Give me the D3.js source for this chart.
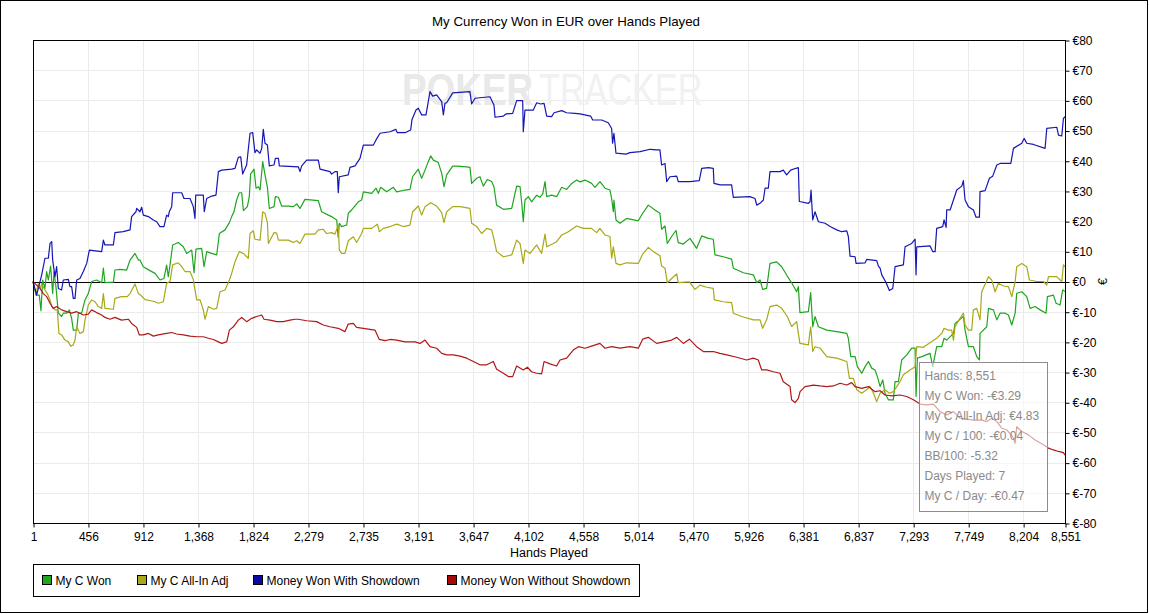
<!DOCTYPE html>
<html>
<head>
<meta charset="utf-8">
<script src="https://cdn.jsdelivr.net/npm/d3@7"></script>
<style>
  html, body { margin: 0; padding: 0; background: #fff; }
  svg { display: block; font-family: "Liberation Sans", Arial, sans-serif; }
</style>
</head>
<body>
<svg id="chart" width="1149" height="614"></svg>
<script>
// Tick labels
const handTicks = [1, 456, 912, 1368, 1824, 2279, 2735, 3191, 3647, 4102, 4558, 5014, 5470, 5926, 6381, 6837, 7293, 7749, 8204, 8551];
const euroTicks = [-80, -70, -60, -50, -40, -30, -20, -10, 0, 10, 20, 30, 40, 50, 60, 70, 80];

// Series: [hand, EUR]
const myCWon = [
  [1,0],[26,-4.5],[53,-4.5],[67,-9.7],[81,0.5],[100,-2.3],[114,3.3],[128,0.5],[147,5.1],[164,-4.0],[175,3.3],[191,-1.7],
  [211,-10.5],[238,-11.6],[252,-10.5],[280,-10.5],[302,-9.4],[321,-12.2],[335,-16.1],[363,-16.1],[377,-10.5],[404,-10.5],
  [432,-6.1],[459,-4.0],[487,0],[528,0.5],[570,-0.4],[584,4.4],[597,-0.4],[667,-0.2],[680,3.8],[722,4.0],[777,3.8],
  [805,7.1],[846,9.3],[874,7.1],[887,7.1],[915,4.9],[970,3.6],[1012,2.7],[1053,0.5],[1086,1.0],[1108,5.4],[1122,1.6],
  [1136,5.4],[1158,12.1],[1205,12.9],[1246,11.5],[1274,9.3],[1316,10.4],[1335,2.9],[1351,10.7],[1398,11.0],[1418,4.9],
  [1440,9.9],[1481,9.3],[1523,8.8],[1545,15.9],[1592,17.1],[1628,19.5],[1647,21.5],[1666,23.1],[1688,27.0],[1710,29.4],
  [1730,29.4],[1744,23.5],[1777,24.8],[1793,28.1],[1804,35.6],[1832,37.2],[1849,30.9],[1868,31.4],[1882,30.3],[1904,39.7],
  [1923,35.3],[1943,31.2],[1959,24.2],[1998,24.8],[2009,28.1],[2034,27.9],[2061,25.0],[2117,25.0],[2158,24.8],[2186,25.7],
  [2213,24.2],[2254,27.2],[2365,26.8],[2392,23.1],[2448,22.0],[2475,21.5],[2517,20.4],[2530,14.6],[2539,19.3],[2558,18.2],
  [2600,18.7],[2613,22.6],[2641,23.7],[2696,26.4],[2724,27.0],[2738,29.7],[2807,29.2],[2843,30.9],[2862,29.2],[2881,31.2],
  [2931,29.7],[2986,31.2],[3014,29.7],[3083,30.3],[3124,30.5],[3146,34.7],[3193,37.2],[3221,34.2],[3249,36.9],[3276,39.7],
  [3296,41.6],[3318,40.2],[3359,39.4],[3387,35.8],[3406,31.4],[3428,35.3],[3478,38.2],[3511,38.2],[3594,38.0],[3621,37.8],
  [3635,32.5],[3677,34.2],[3704,34.7],[3732,31.6],[3765,33.8],[3801,33.1],[3820,31.4],[3842,25.3],[3898,23.9],[3967,24.2],
  [4008,31.6],[4036,31.4],[4050,26.1],[4063,19.8],[4077,27.0],[4105,28.1],[4132,26.4],[4174,28.6],[4201,27.9],[4224,29.0],
  [4243,33.1],[4257,28.1],[4298,28.6],[4339,28.1],[4381,31.2],[4422,30.5],[4464,32.5],[4505,33.6],[4533,33.0],[4574,33.6],
  [4629,32.5],[4657,31.2],[4698,33.1],[4740,30.9],[4781,30.3],[4795,27.5],[4809,23.1],[4814,27.0],[4831,20.4],[4864,19.3],
  [4919,20.9],[5016,20.1],[5052,22.6],[5099,25.3],[5154,23.7],[5195,22.6],[5209,17.3],[5237,18.4],[5256,12.6],[5292,14.9],
  [5328,16.9],[5347,12.9],[5389,12.4],[5444,14.3],[5499,11.0],[5541,15.1],[5596,14.3],[5637,14.0],[5651,8.8],[5720,8.2],
  [5789,7.4],[5803,4.4],[5886,2.9],[5969,2.2],[5997,-0.4],[6024,0.5],[6046,-2.6],[6079,-2.3],[6107,6.0],[6162,6.5],
  [6204,4.9],[6250,1.8],[6286,-0.4],[6328,-3.4],[6342,-1.7],[6355,-10.3],[6425,-10.0],[6444,-3.7],[6461,-15.0],[6480,-11.6],
  [6508,-15.0],[6577,-16.1],[6660,-16.6],[6743,-17.2],[6756,-18.8],[6776,-24.9],[6812,-24.9],[6831,-28.2],[6867,-30.4],
  [6895,-28.2],[6922,-26.5],[6950,-28.7],[6977,-29.3],[6997,-31.5],[7019,-34.8],[7041,-32.6],[7060,-37.0],[7088,-39.2],
  [7129,-39.2],[7143,-33.2],[7171,-33.2],[7198,-26.0],[7240,-24.3],[7281,-22.1],[7309,-22.1],[7317,-38.1],[7328,-25.4],
  [7364,-24.9],[7433,-23.8],[7455,-28.2],[7488,-21.6],[7530,-21.6],[7549,-18.8],[7571,-19.4],[7627,-17.2],[7640,-13.9],
  [7676,-12.7],[7709,-11.6],[7723,-16.1],[7751,-21.6],[7792,-21.6],[7820,-24.9],[7842,-26.0],[7847,-17.2],[7903,-15.0],
  [7917,-8.9],[7958,-9.4],[7986,-12.7],[8013,-10.5],[8055,-10.5],[8082,-11.1],[8110,-14.4],[8138,-10.5],[8151,-3.9],
  [8193,-3.4],[8234,-5.0],[8262,-8.9],[8303,-8.3],[8345,-9.4],[8394,-10.5],[8405,-5.0],[8455,-4.5],[8477,-7.2],[8510,-7.8],
  [8532,-2.8],[8551,-3.29]
];

const myCAllInAdj = [
  [1,0],[26,-4.0],[45,-0.8],[59,-2.3],[73,-0.8],[100,-2.8],[120,-4.0],[142,-6.1],[156,-8.3],[183,-9.4],[202,-9.4],
  [216,-17.2],[238,-17.7],[266,-19.4],[294,-20.0],[313,-21.4],[335,-21.0],[349,-19.4],[363,-15.0],[390,-17.2],[418,-16.6],
  [432,-12.7],[459,-7.8],[487,-6.1],[515,-6.7],[542,-8.3],[570,-8.9],[584,-4.0],[597,-8.9],[667,-9.2],[680,-5.6],[735,-5.0],
  [782,-5.0],[805,-4.0],[846,-0.8],[874,-4.0],[901,-4.8],[929,-6.0],[970,-6.3],[1012,-6.7],[1039,-7.2],[1081,-6.7],
  [1108,-0.6],[1136,0.0],[1158,5.5],[1205,6.2],[1233,4.9],[1260,3.3],[1302,3.3],[1329,0.7],[1357,-6.1],[1385,-6.1],
  [1412,-9.4],[1426,-12.5],[1454,-8.3],[1495,-9.2],[1523,-8.9],[1550,-3.4],[1592,-2.8],[1628,0.5],[1647,2.7],[1675,6.6],
  [1710,9.9],[1744,9.3],[1785,7.7],[1799,15.9],[1827,16.8],[1840,14.0],[1882,13.7],[1904,23.1],[1923,22.6],[1943,19.5],
  [1951,12.6],[1998,16.2],[2020,16.0],[2034,13.7],[2117,13.7],[2158,12.9],[2186,13.5],[2213,12.6],[2254,15.7],[2337,15.7],
  [2365,17.1],[2406,17.3],[2434,15.9],[2475,16.2],[2503,15.7],[2530,18.7],[2539,10.4],[2558,9.3],[2586,9.3],[2613,13.5],
  [2655,14.8],[2682,12.9],[2724,15.9],[2738,17.6],[2807,17.6],[2854,19.0],[2870,16.5],[2903,17.6],[2959,18.2],[3014,19.0],
  [3069,18.2],[3124,18.7],[3146,23.1],[3193,25.0],[3221,22.0],[3249,24.8],[3296,26.1],[3345,25.0],[3387,22.8],[3406,19.5],
  [3428,23.1],[3478,24.8],[3539,24.8],[3621,24.2],[3635,19.3],[3677,18.2],[3718,15.9],[3760,17.6],[3801,17.1],[3820,14.0],
  [3842,9.9],[3898,8.2],[3967,8.8],[4008,13.7],[4036,12.6],[4063,6.0],[4077,10.4],[4119,9.3],[4174,12.1],[4215,9.3],
  [4243,15.7],[4257,11.5],[4312,12.6],[4339,13.2],[4381,15.4],[4436,16.5],[4505,18.4],[4560,17.6],[4629,17.6],[4671,16.2],
  [4698,17.6],[4740,15.4],[4781,14.9],[4795,7.7],[4809,11.5],[4831,6.0],[4864,5.5],[4919,6.2],[5016,6.0],[5052,9.1],
  [5099,11.3],[5140,9.9],[5195,8.5],[5209,5.1],[5237,4.4],[5256,-0.4],[5292,1.0],[5334,2.5],[5347,-0.4],[5439,-0.1],
  [5486,-2.6],[5527,-1.2],[5582,-1.9],[5637,-2.3],[5646,-6.1],[5720,-6.7],[5789,-7.0],[5803,-10.5],[5872,-11.6],[5969,-12.7],
  [6024,-12.7],[6046,-15.5],[6079,-12.7],[6107,-8.3],[6162,-7.8],[6204,-8.9],[6250,-11.6],[6286,-14.9],[6328,-13.3],
  [6342,-17.2],[6355,-20.5],[6425,-21.0],[6444,-15.0],[6461,-23.2],[6480,-21.6],[6522,-22.1],[6577,-24.9],[6660,-25.4],
  [6743,-26.5],[6765,-32.1],[6798,-32.1],[6826,-35.9],[6867,-37.0],[6908,-35.9],[6936,-34.8],[6964,-37.0],[6991,-39.8],
  [7019,-37.0],[7060,-35.9],[7096,-37.0],[7129,-36.5],[7157,-34.8],[7184,-33.2],[7212,-30.9],[7267,-29.3],[7309,-28.2],
  [7323,-21.6],[7378,-21.8],[7447,-19.9],[7488,-18.8],[7530,-17.2],[7549,-15.5],[7585,-16.1],[7612,-16.1],[7627,-19.4],
  [7640,-15.0],[7676,-12.5],[7709,-10.5],[7723,-14.4],[7751,-16.1],[7778,-16.1],[7792,-9.4],[7820,-8.9],[7847,-12.7],
  [7861,-3.4],[7917,1.6],[7944,0.5],[7972,-3.4],[7999,-0.6],[8041,-1.5],[8082,-1.7],[8110,-5.0],[8138,0.0],[8151,4.9],
  [8193,6.0],[8234,4.9],[8256,0.5],[8317,0.0],[8373,0.0],[8400,-1.2],[8414,1.6],[8483,1.6],[8524,0.0],[8538,5.5],[8551,4.83]
];

const withShowdown = [
  [1,0],[31,-4.5],[73,2.2],[100,7.7],[128,7.7],[142,12.6],[156,13.2],[164,7.1],[183,1.6],[197,4.9],[211,-2.3],[238,-2.8],
  [252,0.5],[294,0.7],[307,-1.7],[321,-1.7],[335,-5.6],[349,-5.6],[363,0.5],[390,1.0],[418,3.3],[446,6.0],[468,10.4],
  [570,9.9],[584,13.7],[597,12.1],[667,12.1],[680,16.2],[749,16.5],[805,17.1],[818,21.5],[854,23.1],[860,24.2],[887,23.1],
  [901,24.6],[915,22.0],[957,21.5],[998,20.4],[1026,19.8],[1053,18.2],[1086,18.2],[1108,22.0],[1122,21.5],[1130,23.1],
  [1150,24.8],[1158,29.4],[1233,29.4],[1252,27.5],[1302,27.5],[1329,24.8],[1343,20.9],[1349,28.6],[1412,28.6],[1420,23.1],
  [1440,27.5],[1481,28.3],[1517,28.6],[1537,36.4],[1564,36.9],[1647,37.2],[1675,37.5],[1702,41.1],[1722,41.3],[1738,35.6],
  [1771,38.6],[1799,49.1],[1821,49.3],[1840,42.7],[1854,43.6],[1882,42.5],[1896,44.1],[1909,50.4],[1923,45.8],[1943,45.2],
  [1959,38.3],[1998,38.6],[2009,40.8],[2034,40.8],[2042,38.3],[2199,38.0],[2213,36.4],[2227,38.3],[2268,40.2],[2365,40.2],
  [2379,37.2],[2461,36.4],[2475,35.6],[2503,36.4],[2522,36.4],[2530,29.4],[2539,34.7],[2613,35.3],[2627,37.8],[2669,38.3],
  [2710,40.8],[2738,45.2],[2821,45.2],[2843,46.9],[2876,49.1],[2959,49.6],[3008,50.4],[3019,49.3],[3083,49.3],[3130,50.2],
  [3141,53.7],[3174,56.8],[3193,57.4],[3221,55.2],[3257,55.2],[3290,62.9],[3312,61.4],[3345,61.8],[3387,59.6],[3401,55.2],
  [3414,59.0],[3428,59.2],[3478,62.5],[3621,62.9],[3635,58.8],[3663,60.7],[3787,61.2],[3820,58.5],[3829,54.4],[3898,54.8],
  [3920,55.5],[3975,55.7],[4008,59.9],[4058,59.9],[4063,49.6],[4077,56.8],[4146,56.8],[4174,59.2],[4207,58.8],[4235,59.0],
  [4257,54.8],[4298,54.6],[4318,55.9],[4381,56.6],[4422,55.9],[4491,55.7],[4533,55.5],[4621,54.8],[4638,53.5],[4712,53.5],
  [4767,52.6],[4795,50.7],[4803,45.8],[4814,49.1],[4831,42.5],[4914,42.2],[4947,42.7],[5030,43.0],[5113,43.8],[5168,43.6],
  [5195,43.6],[5209,38.6],[5237,39.1],[5251,33.1],[5278,34.7],[5334,34.9],[5347,33.1],[5444,33.1],[5521,33.4],[5541,37.5],
  [5596,37.7],[5637,37.5],[5643,32.5],[5693,32.0],[5789,32.0],[5803,27.9],[5941,28.1],[5983,27.5],[5997,25.3],[6024,25.9],
  [6052,27.0],[6066,30.9],[6093,30.9],[6107,36.4],[6190,36.4],[6217,36.9],[6245,35.3],[6278,36.9],[6322,37.5],[6342,37.7],
  [6350,26.5],[6425,25.9],[6439,26.4],[6447,30.3],[6461,20.4],[6480,23.1],[6508,19.8],[6563,19.3],[6605,18.2],[6660,17.1],
  [6701,16.5],[6743,16.8],[6756,14.9],[6770,8.4],[6812,8.2],[6820,6.0],[6895,6.2],[6908,7.3],[6991,6.9],[7005,5.1],
  [7019,4.4],[7033,2.2],[7069,-0.4],[7096,-3.0],[7124,-2.3],[7143,4.9],[7212,5.5],[7226,11.5],[7281,12.6],[7309,14.0],
  [7317,2.2],[7323,11.5],[7433,11.8],[7455,9.9],[7475,9.9],[7488,17.6],[7538,18.2],[7549,20.4],[7566,17.9],[7571,23.7],
  [7599,23.7],[7627,27.0],[7654,30.3],[7696,31.6],[7709,33.4],[7723,27.0],[7751,24.8],[7792,23.7],[7814,21.3],[7842,21.3],
  [7847,29.8],[7889,30.1],[7925,34.2],[7952,34.9],[7986,38.6],[8013,39.1],[8102,39.1],[8124,44.1],[8193,45.8],[8212,47.4],
  [8234,45.8],[8290,45.4],[8386,44.1],[8400,50.7],[8483,51.1],[8497,48.5],[8524,48.2],[8538,54.0],[8551,54.6]
];

const withoutShowdown = [
  [1,0],[31,-1.2],[59,-2.3],[86,-4.0],[114,-5.0],[142,-7.2],[169,-8.9],[197,-8.3],[238,-9.4],[280,-10.0],[321,-10.5],
  [363,-10.0],[390,-10.5],[418,-11.1],[459,-10.8],[487,-9.4],[528,-10.3],[570,-11.1],[597,-11.9],[639,-12.5],[680,-11.9],
  [735,-12.8],[791,-12.5],[818,-13.9],[860,-15.2],[882,-17.7],[915,-17.7],[957,-17.2],[998,-18.1],[1039,-17.7],[1108,-17.2],
  [1150,-16.9],[1191,-17.4],[1246,-17.7],[1302,-18.1],[1357,-18.3],[1412,-18.3],[1454,-18.8],[1495,-19.2],[1537,-20.0],
  [1564,-20.5],[1606,-20.0],[1628,-16.1],[1661,-15.0],[1702,-12.8],[1730,-11.9],[1771,-13.3],[1813,-12.2],[1854,-11.6],
  [1896,-11.1],[1915,-12.5],[1965,-12.8],[2020,-13.3],[2075,-13.3],[2130,-12.8],[2172,-12.5],[2199,-12.5],[2268,-13.0],
  [2351,-13.3],[2406,-14.4],[2461,-15.0],[2530,-15.5],[2586,-16.6],[2613,-14.1],[2655,-13.9],[2682,-15.2],[2738,-15.5],
  [2834,-16.1],[2870,-19.2],[2917,-19.6],[2959,-19.2],[3014,-19.4],[3083,-20.0],[3166,-20.0],[3207,-20.5],[3249,-19.4],
  [3290,-21.6],[3345,-22.1],[3387,-23.8],[3428,-24.3],[3483,-24.3],[3539,-24.7],[3594,-25.4],[3649,-26.5],[3704,-27.6],
  [3760,-27.6],[3815,-26.5],[3842,-29.1],[3898,-30.4],[3939,-31.5],[3975,-31.5],[4008,-28.0],[4063,-29.3],[4097,-28.4],
  [4132,-29.9],[4174,-30.4],[4215,-30.6],[4235,-26.5],[4284,-27.3],[4339,-28.0],[4367,-26.0],[4422,-25.4],[4477,-22.7],
  [4519,-21.6],[4574,-22.1],[4629,-21.4],[4698,-20.5],[4740,-22.1],[4795,-21.6],[4864,-22.1],[4947,-21.6],[5016,-22.1],
  [5052,-19.1],[5099,-18.5],[5168,-20.5],[5237,-19.9],[5292,-19.4],[5334,-18.5],[5389,-20.5],[5439,-19.1],[5499,-21.6],
  [5555,-23.2],[5637,-23.2],[5693,-23.8],[5748,-24.3],[5831,-25.1],[5913,-26.0],[5969,-25.4],[6010,-26.0],[6038,-29.3],
  [6079,-29.3],[6135,-29.9],[6190,-30.4],[6217,-33.2],[6273,-34.8],[6286,-39.2],[6314,-40.1],[6342,-38.7],[6356,-36.5],
  [6397,-34.8],[6466,-34.3],[6522,-34.6],[6577,-34.8],[6632,-34.6],[6688,-33.7],[6743,-34.3],[6784,-33.5],[6812,-34.8],
  [6867,-35.4],[6922,-34.8],[6977,-36.5],[7019,-36.2],[7060,-37.6],[7116,-37.9],[7184,-37.6],[7240,-38.1],[7295,-39.2],
  [7350,-40.6],[7405,-40.9],[7461,-40.6],[7516,-43.1],[7571,-44.2],[7627,-43.1],[7682,-45.3],[7737,-45.6],[7792,-45.9],
  [7861,-45.9],[7903,-46.4],[7944,-45.3],[7986,-46.4],[8027,-48.6],[8069,-49.2],[8118,-51.4],[8138,-53.6],[8151,-48.1],
  [8193,-49.7],[8248,-50.8],[8303,-52.5],[8373,-54.1],[8414,-55.2],[8455,-55.8],[8497,-56.3],[8538,-56.7],[8551,-57.5]
];

const seriesNames = ['My C Won', 'My C All-In Adj', 'Money Won With Showdown', 'Money Won Without Showdown'];
const seriesColors = ['#1fa51f', '#a8a818', '#1616b4', '#b01818'];
const legendColors = ['#1fa51f', '#a8a818', '#0a0aa0', '#a80808'];
const seriesData = [myCWon, myCAllInAdj, withShowdown, withoutShowdown];

const tooltipLines = [
  'Hands: 8,551', 'My C Won: -€3.29', 'My C All-In Adj: €4.83', 'My C / 100: -€0.04',
  'BB/100: -5.32', 'Days Played: 7', 'My C / Day: -€0.47'
];

const svg = d3.select('#chart');
const plot = { left: 33, top: 40, right: 1065, bottom: 523 };

// outer frame
svg.append('rect')
  .attr('x', 0.5).attr('y', 0.5)
  .attr('width', 1147).attr('height', 612)
  .attr('fill', '#fff').attr('stroke', '#000');

const x = d3.scaleLinear().domain([1, 8551]).range([plot.left, plot.right]);
const y = d3.scaleLinear().domain([-80, 80]).range([plot.bottom, plot.top]);

// grid
const grid = svg.append('g').attr('stroke', '#ebebeb').attr('stroke-width', 1);
grid.selectAll('.vg').data(handTicks).enter().append('line')
  .attr('x1', d => Math.round(x(d)) + 0.5).attr('x2', d => Math.round(x(d)) + 0.5)
  .attr('y1', plot.top).attr('y2', plot.bottom);
grid.selectAll('.hg').data(euroTicks).enter().append('line')
  .attr('x1', plot.left).attr('x2', plot.right)
  .attr('y1', d => Math.round(y(d)) + 0.5).attr('y2', d => Math.round(y(d)) + 0.5);

// watermark: two words, squeezed horizontally so their boxes stay apart
svg.append('text')
  .attr('transform', 'translate(402, 105) scale(0.82, 1)')
  .attr('font-size', 45).attr('font-weight', 'bold').attr('fill', '#e9e9e9')
  .text('POKER');
svg.append('text')
  .attr('transform', 'translate(539, 105) scale(0.76, 1)')
  .attr('font-size', 45).attr('fill', '#f1f1f1')
  .text('TRACKER');

// zero line
svg.append('line')
  .attr('x1', plot.left).attr('x2', plot.right)
  .attr('y1', Math.round(y(0)) + 0.5).attr('y2', Math.round(y(0)) + 0.5)
  .attr('stroke', '#000');

// series lines
const line = d3.line().x(d => x(d[0])).y(d => y(d[1]));
svg.append('g').selectAll('path').data(seriesData).enter().append('path')
  .attr('d', d => line(d))
  .attr('fill', 'none')
  .attr('stroke', (d, i) => seriesColors[i])
  .attr('stroke-width', 1.2)
  .attr('stroke-linejoin', 'round');

// plot border
svg.append('rect')
  .attr('x', plot.left + 0.5).attr('y', plot.top + 0.5)
  .attr('width', plot.right - plot.left).attr('height', plot.bottom - plot.top)
  .attr('fill', 'none').attr('stroke', '#000');

// x axis
const xAxis = d3.axisBottom(x).tickValues(handTicks).tickFormat(d3.format(',')).tickSize(4).tickSizeOuter(0);
const gx = svg.append('g')
  .attr('transform', `translate(0.5, ${plot.bottom + 0.5})`)
  .call(xAxis);
gx.select('.domain').remove();
gx.selectAll('text').attr('font-size', 12).attr('font-family', '"Liberation Sans", Arial, sans-serif').attr('fill', '#000').attr('dy', '0.9em');

// y axis (right)
const yAxis = d3.axisRight(y).tickValues(euroTicks).tickFormat(d => '€' + d).tickSize(4).tickSizeOuter(0);
const gy = svg.append('g')
  .attr('transform', `translate(${plot.right + 0.5}, 0.5)`)
  .call(yAxis);
gy.select('.domain').remove();
gy.selectAll('text').attr('font-size', 12).attr('font-family', '"Liberation Sans", Arial, sans-serif').attr('fill', '#000').attr('x', 7);

// titles
svg.append('text')
  .attr('x', 566).attr('y', 26)
  .attr('text-anchor', 'middle').attr('font-size', 13.3)
  .text('My Currency Won in EUR over Hands Played');

svg.append('text')
  .attr('x', (plot.left + plot.right) / 2).attr('y', 557)
  .attr('text-anchor', 'middle').attr('font-size', 12.5)
  .text('Hands Played');

svg.append('text')
  .attr('transform', `translate(1107, ${y(0)}) rotate(-90)`)
  .attr('text-anchor', 'middle').attr('font-size', 12.5)
  .text('€');

// tooltip
const tip = svg.append('g').attr('transform', 'translate(919.5, 362.5)');
tip.append('rect')
  .attr('width', 128).attr('height', 149)
  .attr('fill', '#fff').attr('fill-opacity', 0.6)
  .attr('stroke', '#8c8c8c');
tip.selectAll('text').data(tooltipLines).enter().append('text')
  .attr('x', 5).attr('y', (d, i) => 17 + i * 20)
  .attr('font-size', 12).attr('fill', '#8a8a8a')
  .text(d => d);

// legend
const lg = svg.append('g').attr('transform', 'translate(33.5, 564.5)');
lg.append('rect').attr('width', 606).attr('height', 32).attr('fill', '#fff').attr('stroke', '#000');
const legendX = [9, 104, 220, 414];
const items = lg.selectAll('.item').data(seriesNames).enter().append('g')
  .attr('transform', (d, i) => `translate(${legendX[i]}, 0)`);
items.append('rect')
  .attr('x', 0).attr('y', 11).attr('width', 9).attr('height', 9)
  .attr('fill', (d, i) => legendColors[i]).attr('stroke', '#000');
items.append('text')
  .attr('x', 13).attr('y', 20.5)
  .attr('font-size', 12)
  .text(d => d);
</script>
</body>
</html>
